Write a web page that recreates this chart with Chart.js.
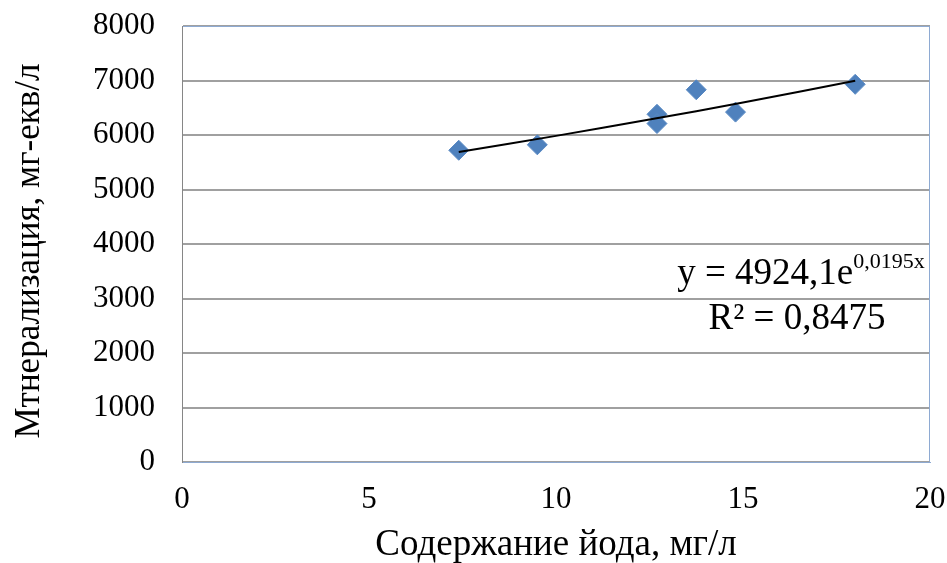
<!DOCTYPE html>
<html>
<head>
<meta charset="utf-8">
<script src="https://cdn.jsdelivr.net/npm/chart.js@4/dist/chart.umd.min.js"></script>
<style>
html,body{margin:0;padding:0;background:#fff;}
#wrap{width:947px;height:563px;}
</style>
</head>
<body>
<div id="wrap"><canvas id="c" width="947" height="563"></canvas></div>
<script>
// Data
const iodine = [7.4, 9.5, 12.7, 12.7, 13.75, 14.8, 18.0];
const mineral = [5720, 5820, 6380, 6210, 6830, 6420, 6930];
// Exponential trend line (y = 4924,1e^0,0195x), values at chosen x
const trendX = [7.4, 10, 12.5, 15, 18.0];
const trendY = [5688, 5984, 6283, 6597, 6995];
const xTicks = [0, 5, 10, 15, 20];
const yTicks = [0, 1000, 2000, 3000, 4000, 5000, 6000, 7000, 8000];
const eqMain = 'y = 4924,1e';
const eqSup = '0,0195x';
const r2Text = 'R² = 0,8475';
const xTitle = 'Содержание йода, мг/л';
const yTitle = 'Мтнерализация, мг-екв/л';

const FONT = "'Liberation Serif', 'Times New Roman', serif";

const pts = iodine.map((x, i) => ({x: x, y: mineral[i]}));
const trend = trendX.map((x, i) => ({x: x, y: trendY[i]}));

const frame = {
  id: 'frame',
  afterDraw(chart) {
    const {ctx, chartArea: a} = chart;
    ctx.save();
    ctx.strokeStyle = '#8eaad2';
    ctx.lineWidth = 1;
    ctx.beginPath();
    ctx.moveTo(a.left + 0.5, a.top + 0.5);
    ctx.lineTo(a.right - 0.5, a.top + 0.5);
    ctx.lineTo(a.right - 0.5, a.bottom - 0.5);
    ctx.stroke();
    ctx.strokeStyle = '#868686';
    ctx.beginPath();
    ctx.moveTo(a.left + 0.5, a.top);
    ctx.lineTo(a.left + 0.5, a.bottom);
    ctx.stroke();
    // y axis title
    ctx.fillStyle = '#000';
    ctx.save();
    ctx.translate(30, 251);
    ctx.rotate(-Math.PI / 2);
    ctx.font = '35px ' + FONT;
    ctx.textAlign = 'center';
    ctx.textBaseline = 'middle';
    ctx.fillText(yTitle, 0, 0);
    ctx.restore();
    // equation label
    ctx.textBaseline = 'alphabetic';
    ctx.font = '37px ' + FONT;
    const wMain = ctx.measureText(eqMain).width;
    ctx.font = '22px ' + FONT;
    const wSup = ctx.measureText(eqSup).width;
    const cx = 801;
    const x0 = cx - (wMain + wSup) / 2;
    ctx.font = '37px ' + FONT;
    ctx.textAlign = 'left';
    ctx.fillText(eqMain, x0, 284);
    ctx.font = '22px ' + FONT;
    ctx.fillText(eqSup, x0 + wMain, 268);
    ctx.font = '37px ' + FONT;
    ctx.textAlign = 'center';
    ctx.fillText(r2Text, 797, 329);
    ctx.restore();
  }
};

new Chart(document.getElementById('c'), {
  type: 'scatter',
  data: {
    datasets: [
      {
        label: 'data',
        data: pts,
        pointStyle: 'rectRot',
        pointRadius: 10,
        pointHoverRadius: 10,
        backgroundColor: '#4f81bd',
        borderColor: '#5a8ac4',
        borderWidth: 1,
        order: 2
      },
      {
        type: 'line',
        label: 'trend',
        data: trend,
        showLine: true,
        borderColor: '#000',
        borderWidth: 2,
        pointRadius: 0,
        tension: 0.4,
        fill: false,
        order: 1
      }
    ]
  },
  options: {
    responsive: false,
    animation: false,
    devicePixelRatio: 1,
    layout: {padding: {top: 26, right: 17, left: 0, bottom: 0}},
    plugins: {legend: {display: false}, tooltip: {enabled: false}},
    scales: {
      x: {
        type: 'linear',
        min: 0, max: 20,
        afterBuildTicks(s) { s.ticks = xTicks.map(v => ({value: v})); },
        afterFit(s) { s.height = 101; s.paddingRight = 0; s.paddingLeft = 0; },
        ticks: {
          font: {family: FONT, size: 31},
          color: '#000',
          padding: 19,
          maxRotation: 0,
          callback: v => String(v)
        },
        grid: {display: false, drawTicks: false},
        border: {display: true, color: '#8eaad2', width: 1},
        title: {
          display: true,
          text: xTitle,
          font: {family: FONT, size: 37},
          color: '#000',
          padding: {top: 0, bottom: -4}
        }
      },
      y: {
        type: 'linear',
        min: 0, max: 8000,
        afterBuildTicks(s) { s.ticks = yTicks.map(v => ({value: v})); },
        afterFit(s) { s.width = 182; s.paddingTop = 0; s.paddingBottom = 0; },
        ticks: {
          font: {family: FONT, size: 31},
          color: '#000',
          padding: 27,
          callback: v => String(v)
        },
        grid: {color: '#a0a0a0', lineWidth: 2, drawTicks: false},
        border: {display: true, color: '#868686', width: 1},
        title: {display: false}
      }
    }
  },
  plugins: [frame]
});
</script>
</body>
</html>
